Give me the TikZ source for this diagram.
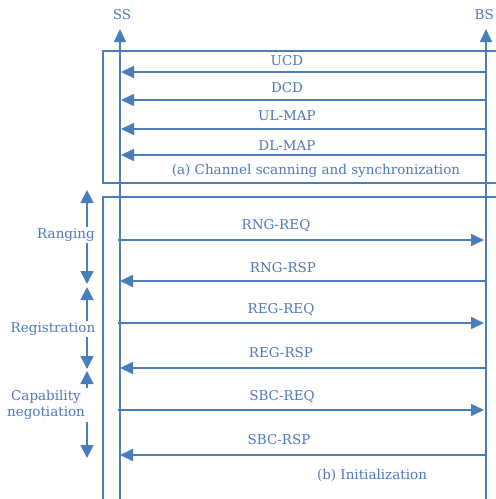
\documentclass[tikz,border=0pt]{standalone}
\usepackage{fontspec}
\setmainfont{DejaVu Serif}
\usetikzlibrary{arrows.meta}
\definecolor{ln}{RGB}{74,126,187}
\definecolor{tx}{RGB}{79,120,185}
\tikzset{
  line/.style={draw=ln, line width=1.7pt},
  msg/.style={line, -{Triangle[length=13pt,width=12pt]}},
  dbl/.style={line, {Triangle[length=13pt,width=13pt]}-{Triangle[length=13pt,width=13pt]}},
  lbl/.style={text=tx, font=\fontsize{13.5}{15}\selectfont, inner sep=1pt},
  side/.style={lbl, fill=white, align=center, inner sep=2pt},
  frame/.style={draw=ln, line width=1.4pt}
}
\begin{document}
\begin{tikzpicture}[x=1pt,y=-1pt]
\clip (0,0) rectangle (496,499);
\fill[white] (0,0) rectangle (496,499);
% frames
\draw[frame] (103,51) rectangle (530,183);
\draw[frame] (103,197) rectangle (530,530);
% lifelines
\node[lbl] (ss) at (122,15) {SS};
\node[lbl, anchor=east] (bs) at (495,15) {BS};
\coordinate (ssb) at (120,510);
\coordinate (sst) at (120,29);
\coordinate (bsb) at (486,510);
\coordinate (bst) at (486,29);
\draw[msg] (ssb) -- (sst);
\draw[msg] (bsb) -- (bst);
% (a) messages
\foreach \y/\t in {72/ucd,100/dcd,129/ulmap,155/dlmap}{
  \coordinate (\t b) at (486,\y);
  \coordinate (\t s) at (121,\y);
  \draw[msg] (\t b) -- (\t s);
}
\node[lbl] (lucd) at (287,61) {UCD};
\node[lbl] (ldcd) at (287,88) {DCD};
\node[lbl] (lul) at (287,116) {UL-MAP};
\node[lbl] (ldl) at (287,146) {DL-MAP};
\node[lbl] (capa) at (316,171) {(a) Channel scanning and synchronization};
% (b) messages
\foreach \y/\t in {240/rngreq,323/regreq,410/sbcreq}{
  \coordinate (\t s) at (118,\y);
  \coordinate (\t b) at (484,\y);
  \draw[msg] (\t s) -- (\t b);
}
\foreach \y/\t in {281/rngrsp,368/regrsp,455/sbcrsp}{
  \coordinate (\t b) at (486,\y);
  \coordinate (\t s) at (120,\y);
  \draw[msg] (\t b) -- (\t s);
}
\node[lbl] (l1) at (276,226) {RNG-REQ};
\node[lbl] (l2) at (283,268) {RNG-RSP};
\node[lbl] (l3) at (281,310) {REG-REQ};
\node[lbl] (l4) at (281,353) {REG-RSP};
\node[lbl] (l5) at (282,397) {SBC-REQ};
\node[lbl] (l6) at (279,440) {SBC-RSP};
\node[lbl] (capb) at (372,475) {(b) Initialization};
% left phases
\coordinate (r1) at (87,190);
\coordinate (r2) at (87,284);
\coordinate (g1) at (87,287);
\coordinate (g2) at (87,369);
\coordinate (c1) at (87,371);
\coordinate (c2) at (87,458);
\draw[dbl] (r1) -- (r2);
\draw[dbl] (g1) -- (g2);
\draw[dbl] (c1) -- (c2);
\node[side] (rang) at (66,235) {Ranging};
\node[side] (reg) at (53,329) {Registration};
\node[side, inner xsep=4pt, font=\fontsize{13.5}{16}\selectfont] (capn) at (46,405) {Capability\\negotiation};
\end{tikzpicture}
\end{document}
